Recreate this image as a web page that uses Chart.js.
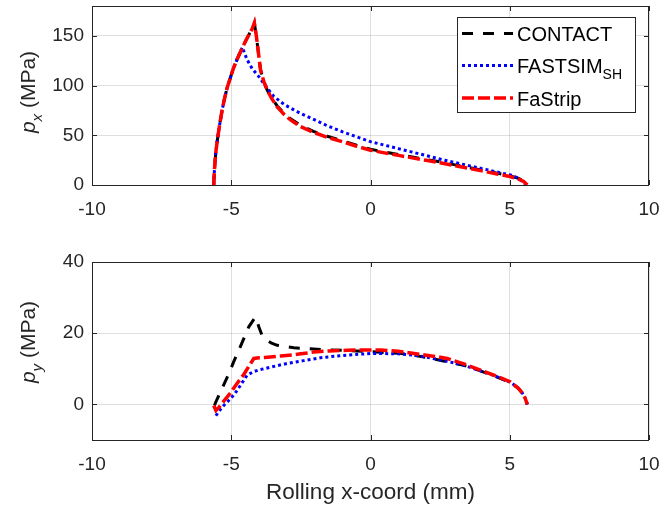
<!DOCTYPE html>
<html>
<head>
<meta charset="utf-8">
<script src="https://cdn.jsdelivr.net/npm/chart.js@4.4.1/dist/chart.umd.min.js"></script>
<style>
  html, body { margin: 0; padding: 0; background: #fff; }
  #wrap { position: relative; width: 662px; height: 511px; }
  #pxChart { position: absolute; left: 0; top: 0; }
  #pyChart { position: absolute; left: 0; top: 230px; }
</style>
</head>
<body>
<div id="wrap">
  <canvas id="pxChart" width="662" height="230"></canvas>
  <canvas id="pyChart" width="662" height="281"></canvas>
</div>
<script>
// Tick values
const xTicks = [-10, -5, 0, 5, 10];
const pxTicks = [0, 50, 100, 150];
const pyTicks = [0, 20, 40];

// ---- p_x (top) ----
// CONTACT
const xContactPx = [-5.63, -5.61, -5.58, -5.55, -5.5, -5.42, -5.33, -5.24, -5.15, -5.03, -4.92, -4.78, -4.61, -4.48, -4.37, -4.25, -4.17, -4.1, -4.02, -3.95, -3.83, -3.71, -3.55, -3.35, -3.1, -2.87, -2.51, -2.05, -1.55, -1.0, -0.5, 0, 0.5, 1.0, 1.5, 2.0, 2.5, 3.0, 3.5, 4.0, 4.5, 5.0, 5.3, 5.5, 5.63];
const contactPx = [0, 12, 24, 34, 45, 60, 75, 87, 97.5, 108, 117.5, 127, 137.5, 145, 151, 157, 163, 150, 132, 116, 104, 95.5, 87.5, 79.5, 72, 66.5, 60, 54, 49, 44.5, 40, 36, 33.2, 30.7, 28.2, 25.7, 23.2, 20.5, 17.8, 15, 12.2, 9.3, 6.8, 4, 0];
// FASTSIM_SH
const xFastsimPx = [-5.63, -5.61, -5.58, -5.55, -5.5, -5.42, -5.33, -5.24, -5.15, -5.03, -4.92, -4.78, -4.66, -4.6, -4.53, -4.43, -4.25, -4.01, -3.77, -3.47, -3.1, -2.75, -2.51, -2.0, -1.55, -1.0, -0.5, 0, 0.5, 1.0, 1.5, 2.0, 2.62, 3.0, 3.5, 4.0, 4.5, 5.03, 5.3, 5.45, 5.6];
const fastsimPx = [0, 12, 24, 34, 45, 60, 75, 87, 97.5, 108, 117.5, 127, 135, 138.5, 133, 126, 117, 109, 99.5, 89, 81, 75.5, 72, 65.5, 59.5, 53.5, 48.5, 43.6, 40.1, 36.6, 33.1, 29.6, 25.2, 22.8, 19.6, 16.5, 13.3, 10, 7, 3.5, 0];
// FaStrip
const xFastripPx = [-5.63, -5.61, -5.58, -5.55, -5.5, -5.42, -5.33, -5.24, -5.15, -5.03, -4.92, -4.78, -4.61, -4.48, -4.37, -4.25, -4.17, -4.1, -4.02, -3.95, -3.83, -3.71, -3.55, -3.35, -3.1, -2.87, -2.51, -2.05, -1.55, -1.0, -0.5, 0, 0.5, 1.0, 1.5, 2.0, 2.5, 3.0, 3.5, 4.0, 4.5, 5.0, 5.3, 5.5, 5.63];
const fastripPx = [0, 12, 24, 34, 45, 60, 75, 87, 97.5, 108, 117.5, 127, 137.5, 145, 151, 157, 163, 150, 132, 116, 104, 95.5, 87, 78.5, 71, 65.4, 58.7, 53, 48, 43.5, 39, 35, 32.3, 29.8, 27.3, 24.8, 22.3, 19.6, 16.9, 14.2, 11.4, 8.6, 6.2, 3.6, 0];

// ---- p_y (bottom) ----
// CONTACT
const xContactPy = [-5.6, -5.57, -5.33, -5.09, -4.91, -4.73, -4.55, -4.37, -4.25, -4.13, -4.07, -4.01, -3.9, -3.71, -3.55, -3.35, -3.0, -2.75, -2.3, -1.91, -1.4, -0.96, -0.5, 0, 0.5, 1.0, 1.56, 2.0, 2.75, 3.35, 3.95, 4.5, 5.03, 5.3, 5.45, 5.55, 5.63];
const contactPy = [-0.3, 0.4, 4.5, 8.6, 12, 15.2, 18.5, 21.8, 23.2, 24.5, 23.3, 21.8, 19.5, 18, 17.2, 16.6, 16.2, 15.9, 15.7, 15.5, 15.3, 15.2, 15.0, 14.8, 14.6, 14.4, 13.8, 13.2, 12.0, 11.0, 9.4, 7.8, 6.1, 4.6, 3.2, 1.8, 0];
// FASTSIM_SH
const xFastsimPy = [-5.55, -5.45, -5.27, -5.0, -4.79, -4.6, -4.43, -4.2, -4.0, -3.83, -3.4, -2.99, -2.4, -1.8, -1.2, -0.6, 0, 0.36, 1.0, 1.56, 2.0, 2.75, 3.35, 3.95, 4.5, 5.03, 5.3, 5.45, 5.55, 5.63];
const fastsimPy = [-3.2, -2.0, -0.3, 1.8, 3.9, 6.2, 8.2, 9.2, 9.7, 10.0, 10.8, 11.5, 12.3, 13.1, 13.6, 14.0, 14.3, 14.3, 14.2, 13.8, 13.3, 12.1, 11.0, 9.4, 7.9, 6.2, 4.6, 3.2, 1.8, 0];
// FaStrip
const xFastripPy = [-5.63, -5.55, -5.45, -5.33, -5.03, -4.8, -4.55, -4.37, -4.19, -4.0, -3.8, -3.5, -3.23, -2.8, -2.5, -2.04, -1.5, -0.84, -0.3, 0.36, 1.0, 1.56, 2.0, 2.4, 2.75, 3.35, 3.95, 4.5, 5.03, 5.3, 5.45, 5.55, 5.63];
const fastripPy = [-0.3, -1.7, -0.9, 0.3, 3.2, 5.8, 8.4, 10.7, 12.9, 13.1, 13.2, 13.4, 13.6, 13.9, 14.2, 14.7, 15.0, 15.2, 15.3, 15.3, 14.9, 14.3, 13.8, 13.4, 12.9, 11.4, 9.6, 8.0, 6.3, 4.6, 3.2, 1.8, 0];

const FONT = "'Liberation Sans', Arial, Helvetica, sans-serif";
const INK = "#262626";

function toPoints(xs, ys) {
  return xs.map(function (x, i) { return { x: x, y: ys[i] }; });
}

// line styles of the three methods
function contactSet(xs, ys) {
  return { label: "CONTACT", data: toPoints(xs, ys), borderColor: "#000000", borderWidth: 3,
    borderDash: [11, 10], order: 2 };
}
function fastsimSet(xs, ys) {
  return { label: "FASTSIM", sub: "SH", data: toPoints(xs, ys), borderColor: "#0000ff", borderWidth: 3,
    borderDash: [3, 3], order: 1 };
}
function fastripSet(xs, ys) {
  return { label: "FaStrip", data: toPoints(xs, ys), borderColor: "#ff0000", borderWidth: 3.5,
    borderDash: [12, 4], order: 0 };
}

// MATLAB style box, inward ticks and y-axis label with subscript
const matlabAxes = {
  id: "matlabAxes",
  beforeDatasetsDraw(chart) {
    const ctx = chart.ctx, a = chart.chartArea, sx = chart.scales.x, sy = chart.scales.y;
    const len = 5;
    ctx.save();
    ctx.strokeStyle = INK;
    ctx.lineWidth = 1;
    ctx.beginPath();
    sx.ticks.forEach(function (t) {
      const p = Math.round(sx.getPixelForValue(t.value)) + 0.5;
      ctx.moveTo(p, a.bottom); ctx.lineTo(p, a.bottom - len);
      ctx.moveTo(p, a.top); ctx.lineTo(p, a.top + len);
    });
    sy.ticks.forEach(function (t) {
      const p = Math.round(sy.getPixelForValue(t.value)) + 0.5;
      ctx.moveTo(a.left, p); ctx.lineTo(a.left + len, p);
      ctx.moveTo(a.right, p); ctx.lineTo(a.right - len, p);
    });
    ctx.stroke();
    ctx.strokeRect(Math.round(a.left) + 0.5, Math.round(a.top) + 0.5,
      Math.round(a.right - a.left) - 1, Math.round(a.bottom - a.top));
    ctx.restore();
  },
  afterDraw(chart, args, opts) {
    const ctx = chart.ctx;
    const mainFont = "italic 21px " + FONT, subFont = "italic 15px " + FONT, restFont = "21px " + FONT;
    ctx.save();
    ctx.fillStyle = INK;
    ctx.textBaseline = "alphabetic";
    ctx.textAlign = "left";
    ctx.font = mainFont; const w1 = ctx.measureText(opts.main).width;
    ctx.font = subFont; const w2 = ctx.measureText(opts.sub).width;
    ctx.font = restFont; const w3 = ctx.measureText(opts.rest).width;
    ctx.translate(opts.cx, opts.cy);
    ctx.rotate(-Math.PI / 2);
    let x0 = -(w1 + w2 + w3) / 2;
    ctx.font = mainFont; ctx.fillText(opts.main, x0, 8); x0 += w1;
    ctx.font = subFont; ctx.fillText(opts.sub, x0, 14.5); x0 += w2;
    ctx.font = restFont; ctx.fillText(opts.rest, x0, 8);
    ctx.restore();
  }
};

// legend box in the top plot
const legendBox = {
  id: "legendBox",
  afterDraw(chart, args, opts) {
    if (!opts.show) return;
    const ctx = chart.ctx;
    const b = opts.box;
    ctx.save();
    ctx.fillStyle = "#ffffff";
    ctx.fillRect(b.left, b.top, b.width, b.height);
    ctx.strokeStyle = INK;
    ctx.lineWidth = 1;
    ctx.strokeRect(b.left + 0.5, b.top + 0.5, b.width, b.height);
    chart.data.datasets.forEach(function (ds, i) {
      const y = opts.rows[i];
      ctx.beginPath();
      ctx.setLineDash(ds.borderDash);
      ctx.strokeStyle = ds.borderColor;
      ctx.lineWidth = ds.borderWidth;
      ctx.moveTo(b.left + 5, y);
      ctx.lineTo(b.left + 56, y);
      ctx.stroke();
      ctx.setLineDash([]);
      ctx.fillStyle = "#000000";
      ctx.textBaseline = "alphabetic";
      ctx.font = "20px " + FONT;
      ctx.fillText(ds.label, b.left + 60, y + 7.5);
      if (ds.sub) {
        const w = ctx.measureText(ds.label).width;
        ctx.font = "14px " + FONT;
        ctx.fillText(ds.sub, b.left + 60 + w, y + 13.5);
      }
    });
    ctx.restore();
  }
};

function makeOptions(yMin, yMax, yTickList, padTop, xAxisHeight, yLabel, showLegend, xTitle) {
  return {
    responsive: false,
    animation: false,
    layout: { padding: { left: 0, right: 13, top: padTop, bottom: 0 } },
    elements: { point: { radius: 0 }, line: { tension: 0, borderCapStyle: "butt", fill: false } },
    scales: {
      x: {
        type: "linear", min: -10, max: 10,
        afterBuildTicks: function (s) { s.ticks = xTicks.map(function (v) { return { value: v }; }); },
        afterFit: function (s) { s.height = xAxisHeight; s.paddingLeft = 0; s.paddingRight = 0; },
        grid: { color: "rgba(38,38,38,0.15)", drawTicks: false },
        border: { display: false },
        ticks: { color: INK, padding: 13, maxRotation: 0, font: { family: FONT, size: 19 } },
        title: {
          display: !!xTitle, text: xTitle || "", color: INK,
          font: { family: FONT, size: 22.5 }, padding: { top: 0, bottom: 5 }
        }
      },
      y: {
        min: yMin, max: yMax,
        afterBuildTicks: function (s) { s.ticks = yTickList.map(function (v) { return { value: v }; }); },
        afterFit: function (s) { s.width = 92; s.paddingTop = 0; s.paddingBottom = 0; },
        grid: { color: "rgba(38,38,38,0.15)", drawTicks: false },
        border: { display: false },
        ticks: { color: INK, padding: 8, font: { family: FONT, size: 19 } }
      }
    },
    plugins: {
      legend: { display: false },
      tooltip: { enabled: false },
      matlabAxes: yLabel,
      legendBox: {
        show: showLegend,
        box: { left: 457, top: 17, width: 178, height: 95 },
        rows: [33.5, 65.5, 98]
      }
    }
  };
}

new Chart(document.getElementById("pxChart"), {
  type: "line",
  data: { datasets: [contactSet(xContactPx, contactPx), fastsimSet(xFastsimPx, fastsimPx), fastripSet(xFastripPx, fastripPx)] },
  options: makeOptions(0, 180, pxTicks, 6, 45, { main: "p", sub: "x", rest: " (MPa)", cx: 27, cy: 92 }, true, null),
  plugins: [matlabAxes, legendBox]
});

new Chart(document.getElementById("pyChart"), {
  type: "line",
  data: { datasets: [contactSet(xContactPy, contactPy), fastsimSet(xFastsimPy, fastsimPy), fastripSet(xFastripPy, fastripPy)] },
  options: makeOptions(-10, 40, pyTicks, 32, 71, { main: "p", sub: "y", rest: " (MPa)", cx: 27, cy: 112 }, false, "Rolling x-coord (mm)"),
  plugins: [matlabAxes, legendBox]
});
</script>
</body>
</html>
